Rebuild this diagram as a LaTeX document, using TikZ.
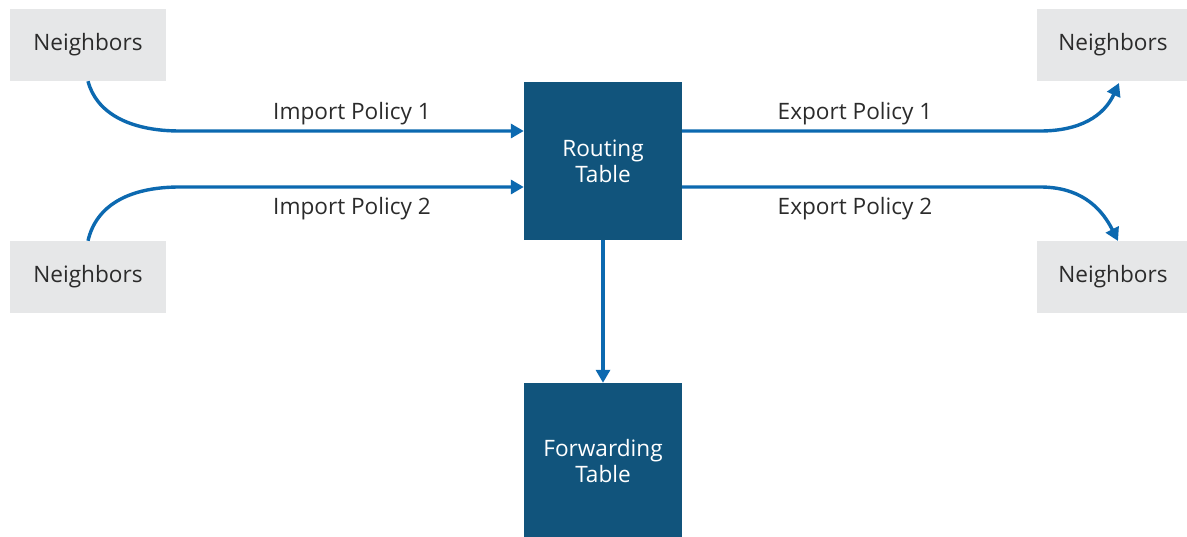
\documentclass[tikz,border=0pt]{standalone}
\usepackage{fontspec}
\setmainfont{Open Sans}
\usetikzlibrary{arrows.meta}
\definecolor{navy}{HTML}{11547C}
\definecolor{flow}{HTML}{0C69B0}
\definecolor{pale}{HTML}{E6E7E8}
\definecolor{ink}{HTML}{2B2B2B}
\begin{document}
\begin{tikzpicture}[x=1pt,y=-1pt,
  nbox/.style={fill=pale,draw=none,minimum width=156pt,minimum height=72pt,inner sep=0pt,font=\fontsize{22.6}{26}\selectfont,text=ink},
  tbox/.style={fill=navy,draw=none,minimum width=158pt,minimum height=158pt,inner sep=0pt,font=\fontsize{22.6}{26}\selectfont,text=white,align=center},
  flowline/.style={draw=flow,line width=3.4pt,-{Triangle[length=13pt,width=14pt]}},
  lbl/.style={font=\fontsize{22.6}{26}\selectfont,text=ink,inner sep=0pt}]
\useasboundingbox (0,0) rectangle (1187,537);
\fill[white] (0,0) rectangle (1187,537);
\node[nbox] (n1) at (88,45) {Neighbors};
\node[nbox] (n2) at (88,277) {Neighbors};
\node[nbox,minimum width=152pt] (n3) at (1113,45) {Neighbors};
\node[nbox,minimum width=152pt] (n4) at (1113,277) {Neighbors};
\node[tbox] (rt) at (603,161) {Routing\\Table};
\node[tbox,minimum height=156pt] (ft) at (603,461) {Forwarding\\Table};
\coordinate (i1) at (180,131);
\coordinate (i2) at (180,187);
\coordinate (e1) at (1040,131);
\coordinate (e2) at (1040,187);
\coordinate (t1) at (1119,83);
\coordinate (t2) at (1118,241);
\draw[flowline] (n1.south) .. controls (96,112) and (128,131) .. (i1) -- (rt.west |- i1);
\draw[flowline] (n2.north) .. controls (96,206) and (128,187) .. (i2) -- (rt.west |- i2);
\draw[flowline] (rt.east |- e1) -- (e1) .. controls (1080,131) and (1104,116) .. (t1);
\draw[flowline] (rt.east |- e2) -- (e2) .. controls (1078,187) and (1100,205) .. (t2);
\draw[flowline] (rt.south) -- (ft.north);
\node[lbl] (l1) at (352,114) {Import Policy 1};
\node[lbl] (l2) at (352,209) {Import Policy 2};
\node[lbl] (l3) at (855,114) {Export Policy 1};
\node[lbl] (l4) at (855,209) {Export Policy 2};
\end{tikzpicture}
\end{document}
